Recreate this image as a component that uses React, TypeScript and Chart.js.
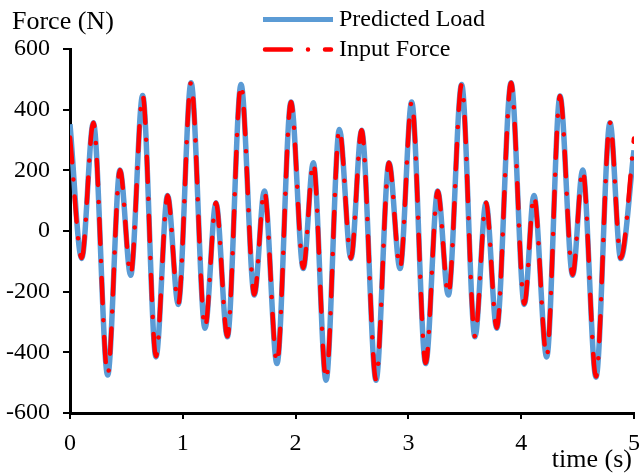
import React, { useEffect, useRef } from "react";
import { Chart, registerables } from "chart.js";

Chart.register(...registerables);

// time (s) of each turning point of the signal
const times = [
  0.0, 0.104, 0.207, 0.334, 0.443, 0.538, 0.644, 0.762, 0.865, 0.96,
  1.073, 1.197, 1.294, 1.395, 1.516, 1.634, 1.723, 1.835, 1.959,
  2.068, 2.157, 2.27, 2.388, 2.491, 2.585, 2.713, 2.828, 2.926,
  3.029, 3.153, 3.26, 3.354, 3.472, 3.59, 3.688, 3.783, 3.91,
  4.028, 4.113, 4.226, 4.344, 4.456, 4.545, 4.663, 4.787, 4.882, 5.0,
];

// Input Force (N)
const inputForce = [
  308, -89, 357, -473, 201, -144, 447, -413, 117, -240,
  489, -319, 93, -347, 483, -209, 132, -435, 425,
  -122, 225, -490, 335, -89, 332, -490, 225, -122,
  425, -435, 132, -209, 483, -347, 93, -319, 489,
  -240, 117, -413, 445, -144, 201, -480, 357, -89, 305,
];

// Predicted Load (N)
const predictedLoad = [
  352, -91, 357, -475, 201, -146, 447, -415, 117, -242,
  489, -321, 93, -349, 483, -211, 132, -437, 425,
  -124, 225, -492, 335, -91, 332, -492, 225, -124,
  425, -437, 132, -211, 483, -349, 93, -321, 489,
  -242, 117, -415, 445, -146, 201, -482, 357, -91, 266,
];

const xTickValues = [0, 1, 2, 3, 4, 5];
const yTickValues = [-600, -400, -200, 0, 200, 400, 600];

const seriesNames = ["Predicted Load", "Input Force"];
const yTitle = "Force (N)";
const xTitle = "time (s)";

const BLUE = "#5B9BD5";
const RED = "#FF0000";
const FONT = '"Liberation Serif", "Times New Roman", serif';
const FONT_SIZE = 24;
const TITLE_SIZE = 26;

const textPlugin = {
  id: "customText",
  afterDraw(chart: any) {
    const ctx = chart.ctx as CanvasRenderingContext2D;
    ctx.save();
    ctx.fillStyle = "#000";
    ctx.textBaseline = "middle";

    // axis titles
    ctx.font = `${TITLE_SIZE}px ${FONT}`;
    ctx.textAlign = "left";
    ctx.fillText(yTitle, 12, 22);
    ctx.textAlign = "right";
    ctx.fillText(xTitle, 632, 460);

    // legend
    ctx.font = `${FONT_SIZE}px ${FONT}`;
    ctx.textAlign = "left";
    ctx.lineCap = "butt";
    ctx.strokeStyle = BLUE;
    ctx.lineWidth = 5;
    ctx.beginPath();
    ctx.moveTo(263, 19.5);
    ctx.lineTo(333, 19.5);
    ctx.stroke();
    ctx.fillText(seriesNames[0], 339, 20);

    ctx.strokeStyle = RED;
    ctx.lineWidth = 4.5;
    ctx.lineCap = "round";
    ctx.beginPath();
    ctx.moveTo(265, 49.5);
    ctx.lineTo(291, 49.5);
    ctx.moveTo(308, 49.5);
    ctx.lineTo(308.01, 49.5);
    ctx.moveTo(325, 49.5);
    ctx.lineTo(331, 49.5);
    ctx.stroke();
    ctx.fillText(seriesNames[1], 339, 50);
    ctx.restore();
  },
};

export default function App() {
  const canvasRef = useRef<HTMLCanvasElement | null>(null);

  useEffect(() => {
    const canvas = canvasRef.current;
    if (!canvas) return;
    const chart = new Chart(canvas, {
      type: "line",
      data: {
        datasets: [
          {
            label: seriesNames[1],
            data: times.map((t, i) => ({ x: t, y: inputForce[i] })),
            borderColor: RED,
            borderWidth: 4.5,
            borderDash: [25, 17, 0.01, 17],
            borderCapStyle: "round",
            borderJoinStyle: "round",
            cubicInterpolationMode: "monotone",
            pointRadius: 0,
            fill: false,
            order: 0,
          },
          {
            label: seriesNames[0],
            data: times.map((t, i) => ({ x: t, y: predictedLoad[i] })),
            borderColor: BLUE,
            borderWidth: 5.5,
            borderJoinStyle: "round",
            cubicInterpolationMode: "monotone",
            pointRadius: 0,
            fill: false,
            order: 1,
          },
        ],
      },
      options: {
        responsive: false,
        animation: false,
        layout: { padding: { top: 49, right: 0, left: 0, bottom: 0 } },
        plugins: {
          legend: { display: false },
          tooltip: { enabled: false },
          title: { display: false },
        },
        scales: {
          x: {
            type: "linear",
            min: 0,
            max: 5,
            afterBuildTicks: (scale: any) => {
              scale.ticks = xTickValues.map((v) => ({ value: v }));
            },
            afterFit: (scale: any) => {
              scale.height = 63;
              scale.paddingRight = 6;
              scale.paddingLeft = 0;
            },
            ticks: {
              color: "#000",
              font: { family: FONT, size: FONT_SIZE },
              padding: 10,
              maxRotation: 0,
              autoSkip: false,
            },
            grid: {
              display: true,
              drawOnChartArea: false,
              drawTicks: true,
              tickLength: 6,
              color: "#000",
              lineWidth: 2,
            },
            border: { display: true, color: "#000", width: 3 },
          },
          y: {
            type: "linear",
            min: -600,
            max: 600,
            afterBuildTicks: (scale: any) => {
              scale.ticks = yTickValues.map((v) => ({ value: v }));
            },
            afterFit: (scale: any) => {
              scale.width = 70;
            },
            ticks: {
              color: "#000",
              font: { family: FONT, size: FONT_SIZE },
              padding: 13,
              autoSkip: false,
            },
            grid: {
              display: true,
              drawOnChartArea: false,
              drawTicks: true,
              tickLength: 7,
              color: "#000",
              lineWidth: 2,
            },
            border: { display: true, color: "#000", width: 3 },
          },
        },
      },
      plugins: [textPlugin],
    } as any);
    return () => chart.destroy();
  }, []);

  return (
    <div style={{ position: "absolute", left: 0, top: 0, width: 640, height: 476, background: "#fff" }}>
      <canvas ref={canvasRef} width={640} height={476} style={{ display: "block" }} />
    </div>
  );
}
